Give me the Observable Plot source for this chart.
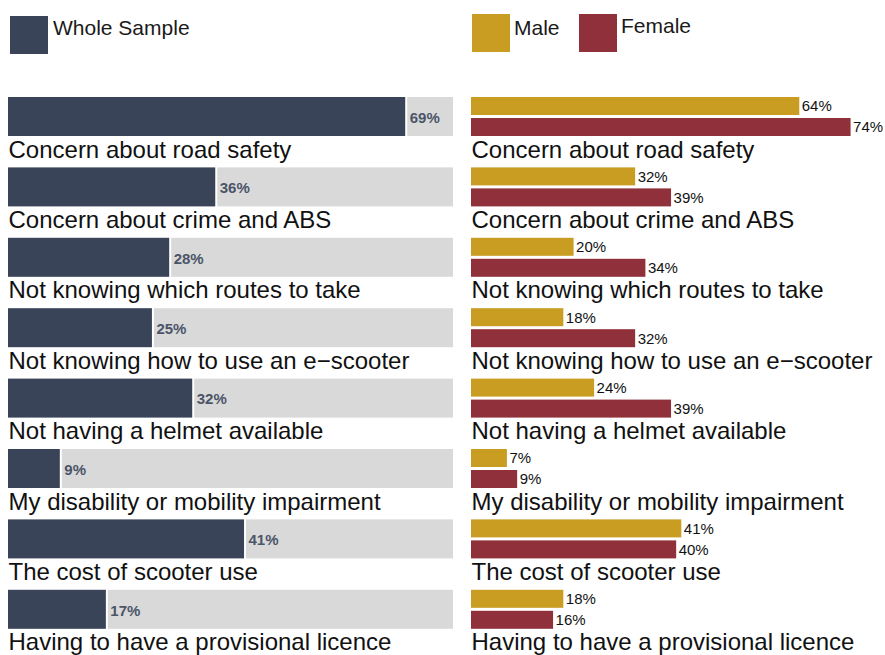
<!DOCTYPE html>
<html><head><meta charset="utf-8">
<script src="https://cdn.jsdelivr.net/npm/d3@7"></script>
<script src="https://cdn.jsdelivr.net/npm/@observablehq/plot@0.6"></script>
<style>
body{margin:0;background:#fff;font-family:"Liberation Sans",Arial,sans-serif;}
#wrap{position:relative;width:885px;height:655px;overflow:hidden;background:#fff;}
.sw{position:absolute;width:38px;height:38px;}
.lt{position:absolute;font-size:21px;line-height:21px;color:#1a1a1a;white-space:nowrap;}
#left,#right{position:absolute;top:0;}
#left{left:0;} #right{left:463px;}
</style></head><body>
<div id="wrap">
  <div id="left"></div>
  <div id="right"></div>
  <div class="sw" style="left:10px;top:16px;background:#394459"></div>
  <div class="lt" style="left:53px;top:16.5px">Whole Sample</div>
  <div class="sw" style="left:472px;top:14px;background:#c99d21"></div>
  <div class="lt" style="left:514px;top:16.5px">Male</div>
  <div class="sw" style="left:579px;top:14px;background:#8f303b"></div>
  <div class="lt" style="left:621px;top:14.5px">Female</div>
</div>
<script>
const categories = [
  "Concern about road safety",
  "Concern about crime and ABS",
  "Not knowing which routes to take",
  "Not knowing how to use an e\u2212scooter",
  "Not having a helmet available",
  "My disability or mobility impairment",
  "The cost of scooter use",
  "Having to have a provisional licence"
];
const wholeSample = [69, 36, 28, 25, 32, 9, 41, 17];
const male = [64, 32, 20, 18, 24, 7, 41, 18];
const female = [74, 39, 34, 32, 39, 9, 40, 16];
const xMax = 77.3;

const colors = {whole: "#394459", track: "#d9d9d9", male: "#c99d21", female: "#8f303b"};

const rows = categories.map((c, i) => ({category: c, whole: wholeSample[i], male: male[i], female: female[i]}));

const step = 70.4, top0 = 97, barH = 39;
const yScale = {domain: categories, range: [top0, top0 + step * categories.length], padding: 0, round: false, axis: null};
const fontFamily = "Liberation Sans, Arial, sans-serif";

const left = Plot.plot({
  width: 460, height: 655, margin: 0,
  style: {fontFamily, background: "transparent"},
  x: {domain: [0, xMax], range: [8, 453], axis: null},
  y: yScale,
  marks: [
    Plot.barX(rows, {x1: "whole", x2: () => xMax, y: "category", fill: colors.track, insetLeft: 2, insetBottom: step - barH}),
    Plot.barX(rows, {x: "whole", y: "category", fill: colors.whole, insetBottom: step - barH}),
    Plot.text(rows, {x: "whole", y: "category", text: d => d.whole + "%", textAnchor: "start", dx: 4, dy: barH / 2 - step / 2 + 1,
      fontWeight: "bold", fontSize: 15, fill: "#4b5568"}),
    Plot.text(rows, {x: 0, y: "category", text: "category", textAnchor: "start", dy: 17.2, fontSize: 24, fill: "#111"})
  ]
});
document.getElementById("left").appendChild(left);

const right = Plot.plot({
  width: 422, height: 655, margin: 0,
  style: {fontFamily, background: "transparent", overflow: "visible"},
  x: {domain: [0, xMax], range: [8, 404.5], axis: null},
  y: yScale,
  marks: [
    Plot.barX(rows, {x: "male", y: "category", fill: colors.male, insetBottom: step - 18}),
    Plot.barX(rows, {x: "female", y: "category", fill: colors.female, insetTop: 21, insetBottom: step - barH}),
    Plot.text(rows, {x: "male", y: "category", text: d => d.male + "%", textAnchor: "start", dx: 2, dy: 9 - step / 2,
      fontSize: 15, fill: "#111"}),
    Plot.text(rows, {x: "female", y: "category", text: d => d.female + "%", textAnchor: "start", dx: 2, dy: 30 - step / 2,
      fontSize: 15, fill: "#111"}),
    Plot.text(rows, {x: 0, y: "category", text: "category", textAnchor: "start", dy: 17.2, fontSize: 24, fill: "#111"})
  ]
});
document.getElementById("right").appendChild(right);
</script>
</body></html>
